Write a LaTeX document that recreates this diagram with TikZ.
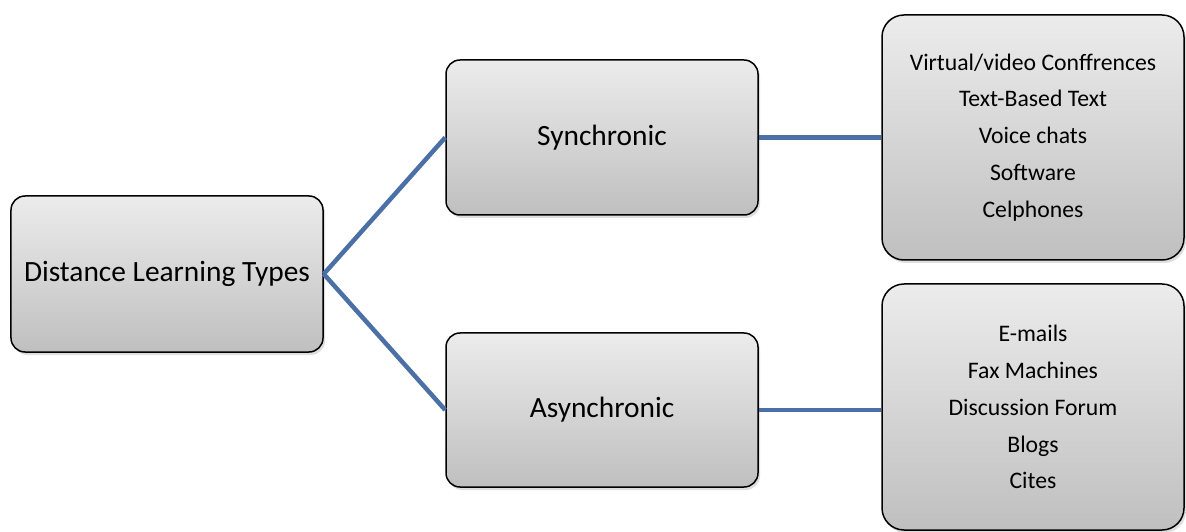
\documentclass[tikz,border=0pt]{standalone}
\usepackage{fontspec}
\setmainfont{Carlito}
\usetikzlibrary{shadows}
\definecolor{linkblue}{HTML}{4A70A6}
\tikzset{
  box/.style={draw=black, line width=1.5bp, rectangle, rounded corners=14bp,
    top color=gray!15, bottom color=gray!50, align=center, inner sep=0pt,
    drop shadow={opacity=0.25, shadow xshift=2bp, shadow yshift=-3bp}},
  bigtext/.style={font=\fontsize{29.5}{34}\selectfont},
  listtext/.style={font=\fontsize{23.8}{37}\selectfont, rounded corners=22bp},
  link/.style={draw=linkblue, line width=4.5bp}
}
\begin{document}
\begin{tikzpicture}[x=1bp,y=-1bp]
\useasboundingbox (0,0) rectangle (1186,532);
\node[box, bigtext, minimum width=312bp, minimum height=156bp] (root) at (167,274) {Distance Learning Types};
\node[box, bigtext, minimum width=312bp, minimum height=155bp] (sync) at (602,137.5) {Synchronic};
\node[box, bigtext, minimum width=312bp, minimum height=154bp] (async) at (602,410) {Asynchronic};
\node[box, listtext, minimum width=302bp, minimum height=245bp] (slist) at (1033,137.5)
  {Virtual/video Conffrences\\Text-Based Text\\Voice chats\\Software\\Celphones};
\node[box, listtext, minimum width=302bp, minimum height=246bp] (alist) at (1033,407)
  {E-mails\\Fax Machines\\Discussion Forum\\Blogs\\Cites};
\draw[link] (root.east) -- (sync.west);
\draw[link] (root.east) -- (async.west);
\draw[link] (sync.east) -- (sync.east -| slist.west);
\draw[link] (async.east) -- (async.east -| alist.west);
\end{tikzpicture}
\end{document}
